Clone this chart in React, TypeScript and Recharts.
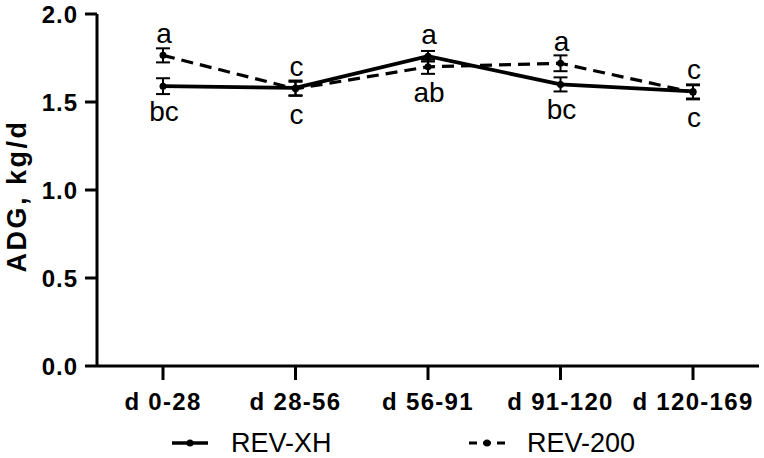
import React from 'react';
import { LineChart, Line, XAxis, YAxis, ErrorBar, LabelList } from 'recharts';

const categories = ['d 0-28', 'd 28-56', 'd 56-91', 'd 91-120', 'd 120-169'];
const revXH = [1.59, 1.58, 1.76, 1.6, 1.56];
const rev200 = [1.765, 1.575, 1.7, 1.72, 1.555];
const revXHErr = [0.045, 0.042, 0.03, 0.04, 0.04];
const rev200Err = [0.04, 0.04, 0.04, 0.045, 0.04];
const revXHLetters = ['bc', 'c', 'a', 'bc', 'c'];
const rev200Letters = ['a', 'c', 'ab', 'a', 'c'];
const yTicks = [0, 0.5, 1, 1.5, 2];
const seriesNames = ['REV-XH', 'REV-200'];

const data = categories.map((cat, i) => ({
  cat,
  xh: revXH[i],
  r200: rev200[i],
  xhErr: revXHErr[i],
  r200Err: rev200Err[i],
  xhLetter: revXHLetters[i],
  r200Letter: rev200Letters[i],
}));

const FONT = '"Liberation Sans", Arial, Helvetica, sans-serif';

const makeLetter = (series: 'xh' | 'r200') => (props: any) => {
  const { x, y, index, value } = props;
  const xhHigher = revXH[index] >= rev200[index];
  const above = series === 'xh' ? xhHigher : !xhHigher;
  const ty = above ? y - 12 : y + 35;
  return (
    <text x={x + 1} y={ty} textAnchor="middle" fontFamily={FONT} fontSize={28} fill="#000">
      {value}
    </text>
  );
};

const YLabel = (props: any) => {
  const vb = props.viewBox || { x: 0, y: 14, width: 97, height: 352 };
  const cx = vb.x + 17;
  const cy = vb.y + vb.height / 2 + 6;
  return (
    <text
      x={cx}
      y={cy}
      transform={`rotate(-90 ${cx} ${cy})`}
      textAnchor="middle"
      dominantBaseline="central"
      fontFamily={FONT}
      fontWeight="bold"
      fontSize={27}
      letterSpacing={2.5}
      fill="#000"
    >
      ADG, kg/d
    </text>
  );
};

export default function App() {
  return (
    <div style={{ position: 'absolute', left: 0, top: 0, width: 764, height: 458, background: '#fff' }}>
      <LineChart width={764} height={458} data={data} margin={{ top: 14, right: 5, bottom: 0, left: 0 }}>
        <XAxis
          dataKey="cat"
          height={92}
          padding={{ left: 66, right: 66 }}
          axisLine={{ stroke: '#000', strokeWidth: 3 }}
          tickLine={{ stroke: '#000', strokeWidth: 3 }}
          tickSize={14}
          tickMargin={13}
          tick={{ fill: '#000', fontFamily: FONT, fontWeight: 'bold', fontSize: 24, letterSpacing: 1.3 }}
          interval={0}
        />
        <YAxis
          width={97}
          domain={[0, 2]}
          ticks={yTicks}
          tickFormatter={(v: number) => v.toFixed(1)}
          axisLine={{ stroke: '#000', strokeWidth: 3 }}
          tickLine={{ stroke: '#000', strokeWidth: 3 }}
          tickSize={12}
          tickMargin={7}
          tick={{ fill: '#000', fontFamily: FONT, fontWeight: 'bold', fontSize: 24, letterSpacing: 1 }}
          label={<YLabel />}
        />
        <Line
          dataKey="r200"
          name={seriesNames[1]}
          stroke="#000"
          strokeWidth={3.2}
          strokeDasharray="12 7"
          dot={{ r: 3.5, fill: '#000', stroke: '#000', strokeWidth: 0 }}
          isAnimationActive={false}
        >
          <ErrorBar dataKey="r200Err" width={7} strokeWidth={2} stroke="#000" direction="y" />
          <LabelList dataKey="r200Letter" content={makeLetter('r200')} />
        </Line>
        <Line
          dataKey="xh"
          name={seriesNames[0]}
          stroke="#000"
          strokeWidth={3.8}
          dot={{ r: 3.5, fill: '#000', stroke: '#000', strokeWidth: 0 }}
          isAnimationActive={false}
        >
          <ErrorBar dataKey="xhErr" width={7} strokeWidth={2} stroke="#000" direction="y" />
          <LabelList dataKey="xhLetter" content={makeLetter('xh')} />
        </Line>
      </LineChart>
      <svg width={764} height={40} style={{ position: 'absolute', left: 0, top: 418 }}>
        <line x1={172} y1={25} x2={208} y2={25} stroke="#000" strokeWidth={3.5} />
        <circle cx={190} cy={25} r={3.5} fill="#000" />
        <text x={231} y={34} fontFamily={FONT} fontSize={27} fill="#000">
          {seriesNames[0]}
        </text>
        <line x1={469} y1={25} x2={505} y2={25} stroke="#000" strokeWidth={3.2} strokeDasharray="8 6" />
        <circle cx={487} cy={25} r={3.5} fill="#000" />
        <text x={527} y={34} fontFamily={FONT} fontSize={27} fill="#000">
          {seriesNames[1]}
        </text>
      </svg>
    </div>
  );
}
